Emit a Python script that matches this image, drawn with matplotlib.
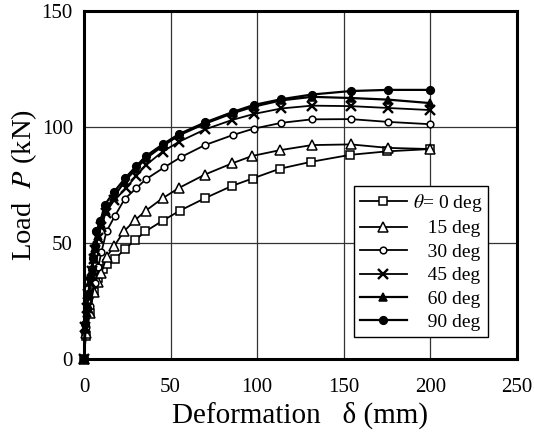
import matplotlib
matplotlib.use("Agg")
import matplotlib.pyplot as plt

plt.rcParams['font.family'] = ['Liberation Serif', 'DejaVu Serif']
plt.rcParams['mathtext.fontset'] = 'stix'

# ---- data ----
x0 = [0, 1, 3.4, 5.5, 8, 11, 13.5, 17.7, 23.5, 29.7, 35.5, 45.4, 55.5, 69.8, 85.4, 97.3, 113, 131.2, 153.7, 175, 200]
y0 = [0, 10, 20, 29, 35, 39, 41, 43, 47.3, 51.3, 55, 59.6, 64, 69.3, 74.6, 77.8, 82, 85, 88, 89.5, 90.5]

x15 = [0, 1.1, 3.4, 5.5, 8, 10, 13, 17.3, 23, 29.7, 35.8, 45.4, 55, 69.8, 85.4, 97, 113, 131.6, 154, 175.5, 200]
y15 = [0, 11, 20, 29, 33, 37, 44, 48.5, 55, 60, 64, 69.3, 73.8, 79.5, 84.3, 87.5, 90, 92.2, 92.5, 91, 90.5]

x30 = [0, 1.1, 3.4, 6.3, 8.2, 10, 13, 17.7, 23.5, 30, 35.8, 46.3, 55.9, 69.8, 85.8, 98, 114, 131.6, 154, 175.5, 200]
y30 = [0, 14, 23, 32.6, 39.5, 46, 55, 61.5, 69, 73.5, 77.5, 82.6, 87, 92.2, 96.5, 99.3, 101.8, 103.3, 103.4, 102.2, 101.2]

x45 = [0, 0.6, 1.5, 2.5, 3.5, 4.5, 5.5, 6.5, 8, 10, 12.5, 17.5, 24.4, 30, 35.8, 45.4, 55, 70, 85.4, 98, 114, 131.6, 154, 175.5, 200]
y45 = [0, 14, 22, 28, 33, 38, 43, 47, 52, 57, 63, 68.5, 73.6, 79, 83.6, 89.4, 93.7, 99, 103, 105.6, 108, 109.2, 109, 108.2, 107.3]

x60 = [0, 0.6, 1.5, 2.5, 3.5, 4.5, 5.5, 6.5, 8, 10, 12.5, 17.3, 23.5, 30, 35.8, 45.8, 55, 70, 86, 98, 114, 131.6, 154, 175.5, 200]
y60 = [0, 13, 20, 27, 33, 38, 43, 48, 53, 58, 64, 70, 76.5, 82, 86.5, 92, 96.5, 101.5, 106, 108.8, 111.5, 113, 112.5, 111.8, 110.3]

x90 = [0, 0.5, 1.5, 2.5, 3.5, 4.5, 5, 6.3, 7.2, 9.5, 12, 17.3, 23.8, 30, 35.8, 45.8, 55, 70, 86, 98, 114, 131.6, 154, 175.5, 200]
y90 = [0, 15, 22, 28, 35, 39, 43.5, 48.5, 55, 59.5, 66.5, 72, 78, 83, 87.5, 92.7, 97, 102, 106.5, 109.5, 112, 114, 115.5, 116, 116]

labels = [r"$\theta$= 0 deg", "   15 deg", "   30 deg", "   45 deg", "   60 deg", "   90 deg"]
xticks = [0, 50, 100, 150, 200, 250]
yticks = [0, 50, 100, 150]

series = [
    (x0, y0, dict(marker='s', mfc='white', ms=6)),
    (x15, y15, dict(marker='^', mfc='white', ms=7)),
    (x30, y30, dict(marker='o', mfc='white', ms=4.8)),
    (x45, y45, dict(marker='x', mfc='black', ms=6.5, mew=1.7)),
    (x60, y60, dict(marker='^', mfc='black', ms=6)),
    (x90, y90, dict(marker='o', mfc='black', ms=5.5)),
]

fig = plt.figure(figsize=(5.34, 4.37), dpi=100)
ax = fig.add_axes([84/534, 1 - 359/437, 433/534, 348/437])

for i, ((xs, ys, st), lab) in enumerate(zip(series, labels)):
    kw = dict(color='black', lw=1.3 if i < 4 else 1.6, mec='black', mew=1.1)
    kw.update(st)
    ax.plot(xs, ys, label=lab, zorder=3 + i, clip_on=False, **kw)

ax.set_xlim(0, 250)
ax.set_ylim(0, 150)
ax.set_xticks(xticks)
ax.set_yticks(yticks)
ax.tick_params(axis='both', length=0, labelsize=15)
ax.tick_params(axis='x', pad=14)
ax.tick_params(axis='y', pad=8)
ax.grid(True, color='#333333', lw=0.9)
ax.set_axisbelow(True)
for sp in ax.spines.values():
    sp.set_linewidth(2.2)
    sp.set_zorder(2.5)

ax.set_xlabel("Deformation   δ (mm)", fontsize=21, labelpad=3)
ax.set_ylabel(r"Load  $P$ (kN)", fontsize=20.5, labelpad=2)

leg = ax.legend(loc='lower right', bbox_to_anchor=((488 - 84) / 433, 0.063), fontsize=14,
                frameon=True, fancybox=False, framealpha=1, edgecolor='black',
                handlelength=2.4, handletextpad=0.3, labelspacing=0.3,
                borderpad=0.3, borderaxespad=0)
leg.get_frame().set_linewidth(1.0)
leg.set_zorder(20)

fig.savefig("out.png", dpi=100)
